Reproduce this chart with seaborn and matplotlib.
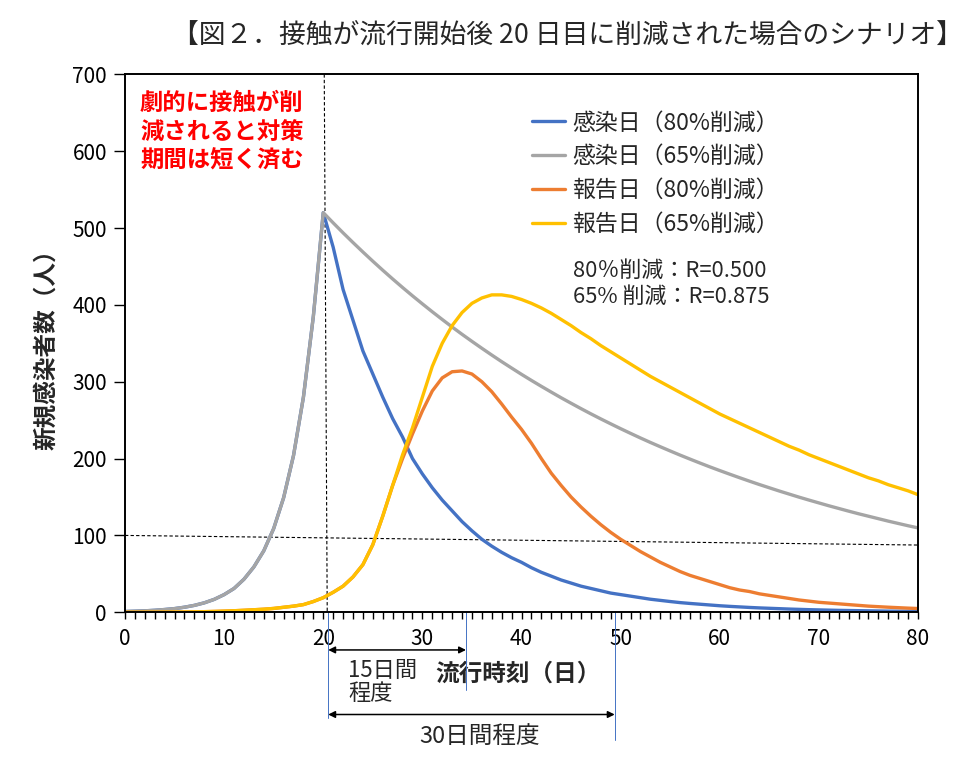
import matplotlib
matplotlib.use("Agg")
import matplotlib.pyplot as plt
import seaborn as sns
import numpy as np
import pandas as pd
from matplotlib.lines import Line2D

sns.set_theme(style="white")
plt.rcParams['font.family'] = ['Noto Sans CJK JP', 'DejaVu Sans']

# ---------------- data ----------------
days = list(range(0, 81))

# common growth phase (day 0..20)
growth = [1.0, 1.4, 1.9, 2.6, 3.6, 4.8, 6.6, 9.0, 12.3, 16.8, 23, 31, 43, 59, 80,
          109, 149, 204, 280, 385, 520]

infect_80_tail = [475, 420, 380, 340, 310, 280, 252, 228, 200, 180, 162, 146, 132, 118,
                  106, 95, 86, 78, 71, 65, 58, 52, 47, 42, 38, 34, 31, 28, 25, 23, 21,
                  19, 17, 15.5, 14, 12.6, 11.5, 10.5, 9.5, 8.5, 7.7, 7.0, 6.3, 5.7, 5.2,
                  4.7, 4.2, 3.8, 3.4, 3.1, 2.8, 2.5, 2.3, 2.1, 1.9, 1.7, 1.5, 1.4, 1.3, 1.2]

infect_65_tail = [506.7, 493.7, 481.1, 468.8, 456.8, 445.1, 433.7, 422.6, 411.8, 401.3,
                  391.0, 381.0, 371.2, 361.7, 352.5, 343.5, 334.7, 326.1, 317.8, 309.6,
                  301.7, 294.0, 286.5, 279.1, 272.0, 265.0, 258.2, 251.6, 245.2, 238.9,
                  232.8, 226.8, 221.0, 215.4, 209.9, 204.5, 199.3, 194.2, 189.2, 184.4,
                  179.7, 175.1, 170.6, 166.2, 162.0, 157.8, 153.8, 149.8, 146.0, 142.3,
                  138.6, 135.1, 131.6, 128.2, 125.0, 121.8, 118.6, 115.6, 112.6, 109.8]

report_common = [0, 0, 0.1, 0.1, 0.2, 0.3, 0.4, 0.6, 0.8, 1.1, 1.5, 2, 2.6, 3.3, 4, 5,
                 6.5, 8, 10, 14, 19, 26, 34, 46, 62, 88, 125, 165]

report_80_tail = [200, 232, 262, 288, 305, 313, 314, 310, 300, 287, 271, 254, 238, 220,
                  200, 181, 165, 150, 137, 125, 114, 104, 95, 87, 79, 72, 65, 59, 53, 48,
                  44, 40, 36, 32, 29, 27, 24, 22, 20, 18, 16, 14.5, 13, 12, 11, 10, 9, 8,
                  7.3, 6.6, 6.0, 5.4, 4.9]

report_65_tail = [205, 240, 280, 320, 350, 373, 390, 402, 409, 413, 413, 411, 407, 402,
                  396, 389, 381, 373, 364, 356, 347, 339, 331, 323, 315, 307, 300, 293,
                  286, 279, 272, 265, 258, 252, 246, 240, 234, 228, 222, 216, 211, 205,
                  200, 195, 190, 185, 180, 175, 171, 166, 162, 158, 153]

infect_80 = growth + infect_80_tail
infect_65 = growth + infect_65_tail
report_80 = report_common + report_80_tail
report_65 = report_common + report_65_tail

series_names = ["感染日（80%削減）", "感染日（65%削減）", "報告日（80%削減）", "報告日（65%削減）"]
series_colors = ["#4472C4", "#A5A5A5", "#ED7D31", "#FFC000"]

# reference lines (as drawn in the original)
hline_x = [0, 80]
hline_y = [100, 87.5]
vline_x = [20.1, 20.4]
vline_y = [700, 0]

# bracket marks below the axis (days)
bracket_start = 20.5
bracket_15 = 34.4
bracket_30 = 49.4

title = "【図２．接触が流行開始後 20 日目に削減された場合のシナリオ】"
note = "劇的に接触が削\n減されると対策\n期間は短く済む"

df = pd.DataFrame({
    "day": days * 4,
    "value": infect_80 + infect_65 + report_80 + report_65,
    "series": sum([[n] * len(days) for n in series_names], []),
})

# ---------------- figure ----------------
fig = plt.figure(figsize=(9.69, 7.59), dpi=100)
ax = fig.add_axes([0.1290, 0.1933, 0.8184, 0.7088])

sns.lineplot(data=df, x="day", y="value", hue="series", hue_order=series_names,
             palette=series_colors, linewidth=2.4, ax=ax, legend=False)

ax.plot(vline_x, vline_y, color="black", linestyle=(0, (3, 2)), linewidth=0.8, zorder=1)
ax.plot(hline_x, hline_y, color="black", linestyle=(0, (3, 2)), linewidth=0.8, zorder=1)

ax.set_ylim(0, 700)
ax.set_xlim(0, 80)
ax.set_xticks(range(0, 81, 10))
ax.set_xticks(range(0, 81, 1), minor=True)
ax.set_yticks(range(0, 701, 100))
ax.tick_params(axis="x", which="both", direction="out", length=5, width=1, colors="black",
               labelsize=15, bottom=True, pad=6)
ax.tick_params(axis="y", which="major", direction="out", length=8, width=1, colors="black",
               labelsize=15, left=True, pad=5)
for s in ["left", "bottom", "top", "right"]:
    ax.spines[s].set_visible(True)
    ax.spines[s].set_color("black")
    ax.spines[s].set_linewidth(1.4)

ax.set_xlabel("流行時刻（日）", fontsize=17, fontweight="bold")
ax.set_ylabel("新規感染者数（人）", fontsize=17, fontweight="bold", labelpad=10)
ax.xaxis.set_label_coords(0.495, -0.0925)

# legend
handles = [Line2D([0], [0], color=c, linewidth=2.4) for c in series_colors]
ax.legend(handles, series_names, loc="upper left", bbox_to_anchor=(0.5015, 0.948),
          frameon=False, fontsize=16.5, handlelength=1.45, handletextpad=0.3,
          labelspacing=0.47, borderaxespad=0)

ax.text(0.565, 0.654, "80％削減：R=0.500\n65% 削減：R=0.875", transform=ax.transAxes,
        fontsize=15.8, va="top", ha="left", linespacing=1.22)

ax.text(0.019, 0.969, note, transform=ax.transAxes, color="#FF0000", fontsize=16.8,
        fontweight="bold", va="top", ha="left", linespacing=1.25)

fig.text(0.994, 0.9525, title, fontsize=19.3, ha="right", va="center")

# bottom annotations
tr = ax.get_xaxis_transform()
for x0, ybot in [(bracket_start, -0.197), (bracket_15, -0.145), (bracket_30, -0.238)]:
    ax.plot([x0, x0], [0, ybot], transform=tr, color="#4472C4", linewidth=0.7,
            clip_on=False)
ax.annotate("", xy=(bracket_15, -0.070), xytext=(bracket_start, -0.070), xycoords=tr,
            textcoords=tr,
            arrowprops=dict(arrowstyle="<|-|>", color="black", lw=1.1,
                            shrinkA=0, shrinkB=0, mutation_scale=10))
ax.annotate("", xy=(bracket_30, -0.190), xytext=(bracket_start, -0.190), xycoords=tr,
            textcoords=tr,
            arrowprops=dict(arrowstyle="<|-|>", color="black", lw=1.1,
                            shrinkA=0, shrinkB=0, mutation_scale=10))
ax.text(22.5, -0.086, "15日間\n程度", transform=tr, fontsize=16, va="top", ha="left",
        linespacing=1.05)
ax.text(35.8, -0.231, "30日間程度", transform=tr, fontsize=17, va="center", ha="center")

fig.savefig("out.png", dpi=100)
